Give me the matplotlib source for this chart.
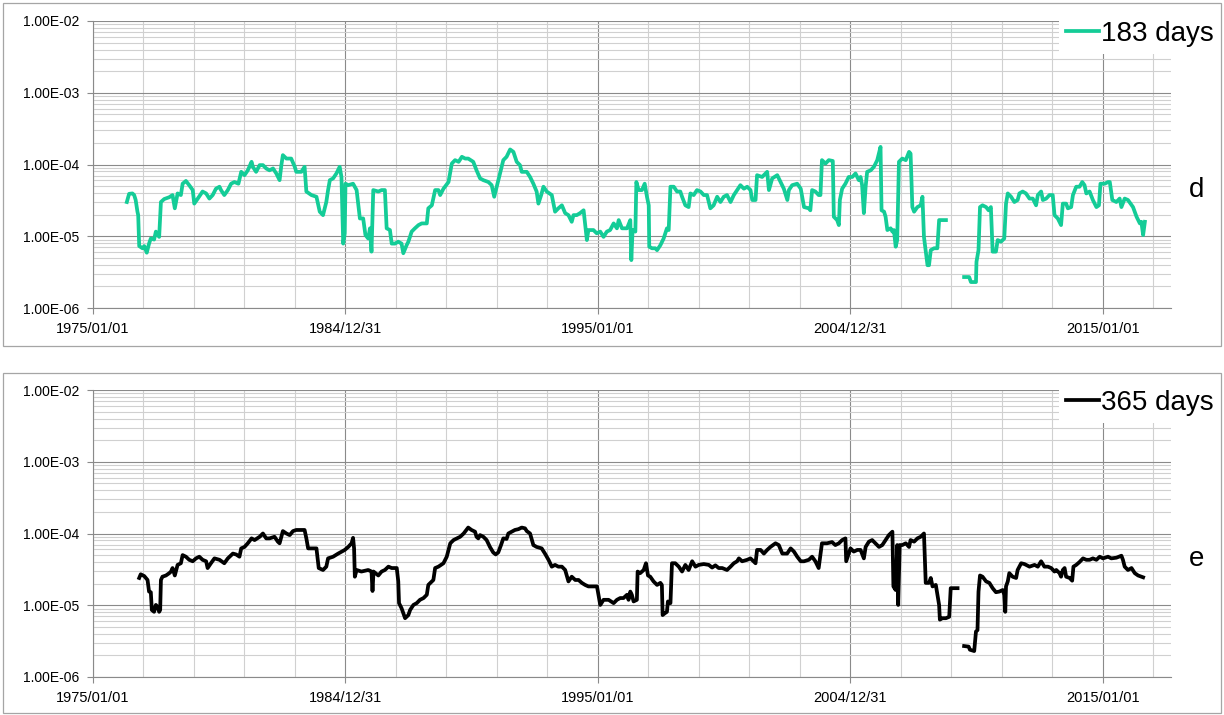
import matplotlib
matplotlib.use("Agg")
import matplotlib.pyplot as plt
import matplotlib.dates as mdates
from matplotlib.patches import Rectangle
from matplotlib.ticker import FixedLocator, LogLocator, FuncFormatter, NullFormatter, FixedFormatter
import numpy as np
import pandas as pd

# 183-day series (decimal year, value)
yr_183 = [1976.34, 1976.43, 1976.56, 1976.63, 1976.69, 1976.76, 1976.79, 1976.83, 1976.96, 1977.03,
          1977.13, 1977.22, 1977.29, 1977.42, 1977.49, 1977.62, 1977.69, 1977.82, 1978.02, 1978.15,
          1978.24, 1978.35, 1978.48, 1978.55, 1978.68, 1978.81, 1978.95, 1979.01, 1979.15, 1979.34,
          1979.48, 1979.61, 1979.74, 1979.87, 1980.01, 1980.07, 1980.20, 1980.34, 1980.47, 1980.60,
          1980.76, 1980.87, 1981.00, 1981.13, 1981.28, 1981.33, 1981.46, 1981.60, 1981.73, 1981.86,
          1981.99, 1982.13, 1982.26, 1982.39, 1982.46, 1982.52, 1982.66, 1982.85, 1982.99, 1983.05,
          1983.25, 1983.38, 1983.45, 1983.65, 1983.85, 1983.98, 1984.11, 1984.24, 1984.31, 1984.38,
          1984.51, 1984.64, 1984.77, 1984.84, 1984.91, 1984.97, 1985.00, 1985.11, 1985.30, 1985.44,
          1985.57, 1985.70, 1985.79, 1985.90, 1985.97, 1986.03, 1986.10, 1986.30, 1986.43, 1986.56,
          1986.63, 1986.76, 1986.83, 1986.96, 1987.09, 1987.22, 1987.29, 1987.42, 1987.49, 1987.62,
          1987.75, 1987.89, 1988.02, 1988.22, 1988.28, 1988.42, 1988.55, 1988.68, 1988.75, 1988.88,
          1989.08, 1989.21, 1989.34, 1989.48, 1989.61, 1989.74, 1989.86, 1990.06, 1990.19, 1990.33,
          1990.46, 1990.66, 1990.79, 1990.89, 1990.99, 1991.12, 1991.25, 1991.38, 1991.52, 1991.65,
          1991.78, 1991.91, 1991.98, 1992.18, 1992.31, 1992.44, 1992.57, 1992.64, 1992.75, 1992.84,
          1992.97, 1993.17, 1993.30, 1993.43, 1993.57, 1993.70, 1993.83, 1993.96, 1994.03, 1994.16,
          1994.29, 1994.43, 1994.56, 1994.62, 1994.82, 1994.95, 1995.09, 1995.22, 1995.35, 1995.48,
          1995.62, 1995.75, 1995.82, 1995.95, 1996.15, 1996.28, 1996.32, 1996.37, 1996.48, 1996.52,
          1996.61, 1996.74, 1996.85, 1996.94, 1997.01, 1997.03, 1997.14, 1997.27, 1997.34, 1997.47,
          1997.60, 1997.73, 1997.80, 1997.87, 1998.00, 1998.13, 1998.26, 1998.33, 1998.46, 1998.59,
          1998.66, 1998.79, 1998.92, 1999.06, 1999.19, 1999.32, 1999.45, 1999.58, 1999.72, 1999.85,
          1999.98, 2000.11, 2000.25, 2000.38, 2000.51, 2000.64, 2000.78, 2000.91, 2001.04, 2001.11,
          2001.24, 2001.30, 2001.50, 2001.70, 2001.77, 2001.90, 2002.10, 2002.23, 2002.36, 2002.50,
          2002.56, 2002.69, 2002.89, 2003.03, 2003.16, 2003.35, 2003.41, 2003.48, 2003.61, 2003.74,
          2003.81, 2003.87, 2004.01, 2004.14, 2004.30, 2004.34, 2004.47, 2004.54, 2004.58, 2004.67,
          2004.80, 2004.93, 2005.07, 2005.20, 2005.33, 2005.40, 2005.46, 2005.53, 2005.60, 2005.66,
          2005.80, 2005.93, 2006.06, 2006.19, 2006.23, 2006.33, 2006.39, 2006.46, 2006.59, 2006.66,
          2006.72, 2006.79, 2006.85, 2006.92, 2007.05, 2007.19, 2007.32, 2007.38, 2007.45, 2007.52,
          2007.65, 2007.78, 2007.85, 2007.91, 2008.05, 2008.11, 2008.18, 2008.31, 2008.44, 2008.51,
          2008.64, 2008.78, 2009.10, 2009.50, 2009.70, 2009.77, 2009.97, 2009.99, 2010.07, 2010.13,
          2010.23, 2010.37, 2010.47, 2010.56, 2010.63, 2010.76, 2010.83, 2010.96, 2011.09, 2011.16,
          2011.23, 2011.36, 2011.49, 2011.62, 2011.69, 2011.82, 2011.95, 2012.09, 2012.22, 2012.35,
          2012.42, 2012.55, 2012.62, 2012.75, 2012.88, 2013.01, 2013.08, 2013.21, 2013.34, 2013.41,
          2013.54, 2013.61, 2013.74, 2013.81, 2013.94, 2014.07, 2014.18, 2014.27, 2014.34, 2014.47,
          2014.60, 2014.74, 2014.84, 2014.90, 2015.07, 2015.20, 2015.27, 2015.37, 2015.53, 2015.66,
          2015.73, 2015.86, 2015.99, 2016.19, 2016.33, 2016.46, 2016.52, 2016.59, 2016.66]
val_183 = [3.0e-5, 3.9e-5, 3.95e-5, 3.75e-5, 3.2e-5, 2.2e-5, 1.97e-5, 7.3e-6, 6.8e-6, 7.3e-6,
           5.9e-6, 7.9e-6, 9.3e-6, 9.0e-6, 1.16e-5, 9.8e-6, 3.0e-5, 3.3e-5, 3.5e-5, 3.75e-5,
           2.45e-5, 3.95e-5, 3.75e-5, 5.4e-5, 5.9e-5, 5.15e-5, 4.4e-5, 2.85e-5, 3.35e-5, 4.2e-5,
           3.95e-5, 3.35e-5, 3.75e-5, 4.6e-5, 4.9e-5, 4.4e-5, 3.75e-5, 4.4e-5, 5.4e-5, 5.7e-5,
           5.4e-5, 7.9e-5, 7.1e-5, 8.3e-5, 1.09e-4, 9.3e-5, 7.9e-5, 9.8e-5, 9.8e-5, 8.8e-5,
           8.3e-5, 8.8e-5, 7.5e-5, 6.05e-5, 9.8e-5, 1.35e-4, 1.21e-4, 1.21e-4, 9.3e-5, 7.9e-5,
           7.9e-5, 9.3e-5, 4.2e-5, 3.75e-5, 3.55e-5, 2.2e-5, 1.97e-5, 3.0e-5, 4.4e-5, 6.05e-5,
           6.4e-5, 7.5e-5, 9.3e-5, 6.7e-5, 7.9e-6, 1.1e-5, 5.4e-5, 5.15e-5, 5.4e-5, 4.4e-5,
           1.77e-5, 1.77e-5, 1.04e-5, 9.3e-6, 1.29e-5, 6.1e-6, 4.4e-5, 4.2e-5, 4.4e-5, 4.4e-5,
           1.29e-5, 1.22e-5, 7.9e-6, 7.9e-6, 8.4e-6, 7.9e-6, 5.8e-6, 7.5e-6, 8.4e-6, 1.16e-5,
           1.29e-5, 1.43e-5, 1.51e-5, 1.51e-5, 2.45e-5, 2.7e-5, 4.4e-5, 4.4e-5, 3.75e-5, 4.6e-5,
           5.7e-5, 1.03e-4, 1.15e-4, 1.09e-4, 1.28e-4, 1.21e-4, 1.21e-4, 1.09e-4, 8.3e-5, 6.4e-5,
           6.05e-5, 5.7e-5, 5.15e-5, 3.55e-5, 4.9e-5, 7.5e-5, 1.15e-4, 1.28e-4, 1.62e-4, 1.50e-4,
           1.09e-4, 9.8e-5, 7.9e-5, 7.9e-5, 6.7e-5, 5.4e-5, 4.2e-5, 2.85e-5, 3.75e-5, 4.9e-5,
           4.2e-5, 3.75e-5, 2.2e-5, 2.45e-5, 2.7e-5, 2.1e-5, 1.97e-5, 1.59e-5, 1.97e-5, 1.97e-5,
           2.1e-5, 2.3e-5, 8.85e-6, 1.22e-5, 1.22e-5, 1.1e-5, 1.16e-5, 9.8e-6, 1.16e-5, 1.22e-5,
           1.51e-5, 1.29e-5, 1.68e-5, 1.29e-5, 1.29e-5, 1.68e-5, 4.65e-6, 1.22e-5, 1.16e-5, 5.7e-5,
           4.4e-5, 4.4e-5, 5.4e-5, 3.55e-5, 2.7e-5, 7.15e-6, 6.8e-6, 6.8e-6, 6.4e-6, 7.5e-6,
           9.3e-6, 1.29e-5, 1.22e-5, 4.9e-5, 4.9e-5, 4.2e-5, 4.2e-5, 3.55e-5, 2.7e-5, 2.55e-5,
           3.95e-5, 3.75e-5, 4.4e-5, 4.2e-5, 3.75e-5, 3.75e-5, 2.45e-5, 2.7e-5, 3.55e-5, 3.0e-5,
           3.55e-5, 3.75e-5, 3.0e-5, 3.75e-5, 4.4e-5, 5.15e-5, 4.6e-5, 4.9e-5, 4.4e-5, 3.2e-5,
           3.2e-5, 7.1e-5, 6.7e-5, 7.9e-5, 4.4e-5, 6.4e-5, 7.1e-5, 5.7e-5, 4.6e-5, 3.2e-5,
           4.4e-5, 5.15e-5, 5.4e-5, 4.6e-5, 2.55e-5, 2.45e-5, 2.3e-5, 4.4e-5, 4.2e-5, 3.75e-5,
           3.75e-5, 1.15e-4, 1.03e-4, 1.15e-4, 1.12e-4, 1.87e-5, 1.68e-5, 1.43e-5, 3.2e-5, 4.6e-5,
           5.4e-5, 6.7e-5, 6.7e-5, 7.5e-5, 6.05e-5, 6.7e-5, 5.15e-5, 2.1e-5, 4.9e-5, 7.9e-5,
           8.3e-5, 9.3e-5, 1.15e-4, 1.76e-4, 2.3e-5, 2.2e-5, 1.87e-5, 1.22e-5, 1.29e-5, 1.16e-5,
           1.22e-5, 7.15e-6, 8.85e-6, 1.09e-4, 1.21e-4, 1.15e-4, 1.5e-4, 1.42e-4, 2.55e-5, 2.2e-5,
           2.55e-5, 2.7e-5, 3.55e-5, 9.8e-6, 3.95e-6, 3.95e-6, 6.4e-6, 6.8e-6, 6.8e-6, 1.68e-5,
           1.68e-5, 1.68e-5, np.nan, 2.7e-6, 2.7e-6, 2.3e-6, 2.3e-6, 4.4e-6, 6.4e-6, 2.55e-5,
           2.7e-5, 2.55e-5, 2.3e-5, 2.55e-5, 6.1e-6, 6.1e-6, 8.85e-6, 8.4e-6, 9.3e-6, 2.85e-5,
           3.95e-5, 3.55e-5, 3.0e-5, 3.2e-5, 3.95e-5, 4.2e-5, 3.95e-5, 3.35e-5, 3.35e-5, 2.7e-5,
           3.75e-5, 4.2e-5, 3.2e-5, 3.35e-5, 3.75e-5, 3.75e-5, 1.97e-5, 1.77e-5, 1.43e-5, 2.85e-5,
           2.85e-5, 2.45e-5, 2.55e-5, 3.75e-5, 4.9e-5, 4.9e-5, 5.7e-5, 5.15e-5, 3.95e-5, 4.2e-5,
           3.2e-5, 2.55e-5, 2.7e-5, 5.4e-5, 5.4e-5, 5.7e-5, 5.7e-5, 3.2e-5, 3.0e-5, 3.35e-5,
           2.55e-5, 3.35e-5, 3.2e-5, 2.55e-5, 1.87e-5, 1.51e-5, 1.59e-5, 1.04e-5, 1.59e-5]

# 365-day series (decimal year, value)
yr_365 = [1976.83, 1976.89, 1977.03, 1977.16, 1977.22, 1977.29, 1977.33, 1977.42, 1977.49, 1977.56,
          1977.62, 1977.66, 1977.69, 1977.75, 1977.89, 1978.02, 1978.09, 1978.15, 1978.24, 1978.35,
          1978.48, 1978.55, 1978.68, 1978.81, 1978.95, 1979.08, 1979.21, 1979.34, 1979.48, 1979.54,
          1979.67, 1979.81, 1980.01, 1980.20, 1980.34, 1980.54, 1980.67, 1980.80, 1980.87, 1981.00,
          1981.13, 1981.28, 1981.40, 1981.60, 1981.73, 1981.86, 1981.99, 1982.19, 1982.32, 1982.39,
          1982.52, 1982.66, 1982.79, 1982.92, 1983.05, 1983.38, 1983.45, 1983.52, 1983.71, 1983.85,
          1983.94, 1984.11, 1984.24, 1984.31, 1984.51, 1984.71, 1984.97, 1985.11, 1985.24, 1985.30,
          1985.34, 1985.37, 1985.44, 1985.63, 1985.90, 1986.03, 1986.07, 1986.11, 1986.30, 1986.43,
          1986.56, 1986.70, 1986.83, 1987.03, 1987.09, 1987.12, 1987.22, 1987.36, 1987.49, 1987.56,
          1987.69, 1987.82, 1987.95, 1988.09, 1988.22, 1988.28, 1988.42, 1988.48, 1988.55, 1988.68,
          1988.88, 1989.01, 1989.15, 1989.28, 1989.41, 1989.54, 1989.68, 1989.86, 1989.99, 1990.13,
          1990.19, 1990.26, 1990.33, 1990.46, 1990.59, 1990.72, 1990.85, 1990.95, 1991.05, 1991.16,
          1991.25, 1991.38, 1991.45, 1991.58, 1991.71, 1991.85, 1991.98, 1992.11, 1992.18, 1992.31,
          1992.44, 1992.57, 1992.77, 1992.90, 1993.04, 1993.17, 1993.30, 1993.43, 1993.57, 1993.70,
          1993.83, 1993.96, 1994.10, 1994.23, 1994.36, 1994.49, 1994.62, 1994.76, 1994.96, 1995.02,
          1995.09, 1995.22, 1995.42, 1995.62, 1995.75, 1995.88, 1996.01, 1996.15, 1996.21, 1996.28,
          1996.34, 1996.41, 1996.54, 1996.57, 1996.67, 1996.81, 1996.90, 1996.98, 1997.07, 1997.20,
          1997.34, 1997.47, 1997.53, 1997.56, 1997.64, 1997.73, 1997.77, 1997.87, 1997.93, 1998.06,
          1998.20, 1998.33, 1998.46, 1998.59, 1998.73, 1998.86, 1998.99, 1999.19, 1999.39, 1999.52,
          1999.65, 1999.78, 1999.92, 2000.11, 2000.25, 2000.38, 2000.51, 2000.58, 2000.71, 2000.91,
          2001.04, 2001.24, 2001.30, 2001.44, 2001.57, 2001.70, 2001.83, 2002.03, 2002.16, 2002.30,
          2002.49, 2002.63, 2002.76, 2002.89, 2003.03, 2003.16, 2003.35, 2003.48, 2003.61, 2003.74,
          2003.81, 2003.87, 2004.07, 2004.27, 2004.40, 2004.54, 2004.67, 2004.80, 2004.83, 2005.00,
          2005.13, 2005.27, 2005.40, 2005.53, 2005.60, 2005.73, 2005.86, 2005.99, 2006.13, 2006.26,
          2006.39, 2006.52, 2006.66, 2006.70, 2006.79, 2006.85, 2006.89, 2006.95, 2007.05, 2007.19,
          2007.32, 2007.38, 2007.52, 2007.65, 2007.78, 2007.91, 2007.98, 2008.11, 2008.18, 2008.25,
          2008.38, 2008.51, 2008.54, 2008.64, 2008.78, 2008.91, 2008.97, 2009.11, 2009.24, 2009.37,
          2009.50, 2009.68, 2009.73, 2009.90, 2009.97, 2010.03, 2010.07, 2010.13, 2010.23, 2010.37,
          2010.50, 2010.63, 2010.76, 2010.89, 2011.03, 2011.09, 2011.13, 2011.16, 2011.23, 2011.29,
          2011.42, 2011.56, 2011.62, 2011.76, 2011.89, 2012.09, 2012.29, 2012.42, 2012.55, 2012.68,
          2012.82, 2012.95, 2013.08, 2013.15, 2013.28, 2013.34, 2013.41, 2013.48, 2013.54, 2013.68,
          2013.78, 2013.83, 2013.94, 2014.07, 2014.21, 2014.34, 2014.47, 2014.60, 2014.74, 2014.87,
          2015.00, 2015.20, 2015.33, 2015.53, 2015.73, 2015.79, 2015.86, 2015.99, 2016.13, 2016.26,
          2016.39, 2016.59]
val_365 = [2.4e-5, 2.7e-5, 2.55e-5, 2.25e-5, 1.55e-5, 1.52e-5, 8.6e-6, 8.1e-6, 1.01e-5, 9.5e-6,
           8.1e-6, 8.6e-6, 2.25e-5, 2.5e-5, 2.6e-5, 2.8e-5, 2.95e-5, 3.3e-5, 2.6e-5, 3.65e-5,
           3.85e-5, 5.0e-5, 4.75e-5, 4.3e-5, 4.1e-5, 4.5e-5, 4.75e-5, 4.3e-5, 4.1e-5, 3.3e-5,
           3.85e-5, 4.5e-5, 4.3e-5, 3.85e-5, 4.5e-5, 5.25e-5, 5.1e-5, 4.75e-5, 6.2e-5, 6.5e-5,
           7.3e-5, 8.55e-5, 8.1e-5, 9.0e-5, 1.0e-4, 8.55e-5, 8.55e-5, 9.0e-5, 7.7e-5, 7.3e-5,
           1.08e-4, 1.0e-4, 9.5e-5, 1.08e-4, 1.12e-4, 1.12e-4, 8.55e-5, 6.2e-5, 6.2e-5, 6.2e-5,
           3.3e-5, 3.1e-5, 3.45e-5, 4.5e-5, 4.75e-5, 5.25e-5, 5.9e-5, 6.5e-5, 7.3e-5, 8.7e-5,
           6.2e-5, 2.5e-5, 3.1e-5, 2.95e-5, 3.1e-5, 2.95e-5, 1.58e-5, 2.95e-5, 2.6e-5, 2.95e-5,
           3.1e-5, 3.45e-5, 3.3e-5, 3.3e-5, 2.15e-5, 1.07e-5, 9.1e-6, 6.6e-6, 7.3e-6, 8.6e-6,
           1.01e-5, 1.07e-5, 1.19e-5, 1.26e-5, 1.4e-5, 1.92e-5, 2.15e-5, 2.25e-5, 3.3e-5, 3.45e-5,
           3.85e-5, 4.75e-5, 7.3e-5, 8.1e-5, 8.55e-5, 9.0e-5, 1.0e-4, 1.21e-4, 1.12e-4, 1.06e-4,
           9.0e-5, 8.55e-5, 9.5e-5, 9.0e-5, 8.1e-5, 6.5e-5, 5.45e-5, 5.1e-5, 5.45e-5, 6.9e-5,
           8.55e-5, 8.4e-5, 1.0e-4, 1.06e-4, 1.12e-4, 1.15e-4, 1.21e-4, 1.18e-4, 1.08e-4, 1.0e-4,
           6.9e-5, 6.5e-5, 6.2e-5, 5.25e-5, 4.3e-5, 3.45e-5, 3.65e-5, 3.45e-5, 3.45e-5, 3.1e-5,
           2.15e-5, 2.5e-5, 2.25e-5, 2.25e-5, 2.05e-5, 1.92e-5, 1.83e-5, 1.83e-5, 1.83e-5, 1.4e-5,
           1.01e-5, 1.19e-5, 1.19e-5, 1.07e-5, 1.19e-5, 1.26e-5, 1.26e-5, 1.4e-5, 1.19e-5, 1.55e-5,
           1.4e-5, 1.13e-5, 1.19e-5, 2.95e-5, 2.8e-5, 3.1e-5, 3.85e-5, 2.6e-5, 2.5e-5, 2.15e-5,
           1.92e-5, 2.05e-5, 1.92e-5, 7.3e-6, 7.7e-6, 8.1e-6, 1.13e-5, 1.07e-5, 3.85e-5, 3.85e-5,
           3.45e-5, 2.95e-5, 3.65e-5, 3.1e-5, 4.1e-5, 3.45e-5, 3.65e-5, 3.75e-5, 3.65e-5, 3.35e-5,
           3.6e-5, 3.3e-5, 3.3e-5, 3.1e-5, 3.45e-5, 3.85e-5, 4.1e-5, 4.5e-5, 4.1e-5, 4.3e-5,
           4.5e-5, 3.85e-5, 5.9e-5, 5.9e-5, 5.25e-5, 5.9e-5, 6.5e-5, 7.3e-5, 6.9e-5, 5.25e-5,
           5.25e-5, 6.2e-5, 5.6e-5, 4.75e-5, 4.1e-5, 4.1e-5, 4.3e-5, 4.75e-5, 4.1e-5, 3.3e-5,
           5.0e-5, 7.3e-5, 7.3e-5, 7.6e-5, 6.9e-5, 7.3e-5, 8.1e-5, 8.55e-5, 4.1e-5, 6.2e-5,
           5.6e-5, 5.9e-5, 5.9e-5, 4.5e-5, 6.5e-5, 7.7e-5, 8.1e-5, 7.3e-5, 6.5e-5, 6.9e-5,
           8.1e-5, 9.5e-5, 1.06e-4, 1.83e-5, 1.63e-5, 6.9e-5, 1.01e-5, 6.9e-5, 6.9e-5, 7.3e-5,
           6.5e-5, 8.1e-5, 7.7e-5, 8.55e-5, 9.0e-5, 1.0e-4, 2.05e-5, 2.05e-5, 2.4e-5, 1.83e-5,
           1.92e-5, 1.01e-5, 6.3e-6, 6.6e-6, 6.6e-6, 6.9e-6, 1.73e-5, 1.73e-5, 1.73e-5, np.nan,
           2.7e-6, 2.65e-6, 2.4e-6, 2.3e-6, 4.3e-6, 4.5e-6, 1.55e-5, 2.6e-5, 2.5e-5, 2.15e-5,
           2.05e-5, 1.73e-5, 1.52e-5, 1.55e-5, 1.63e-5, 1.4e-5, 8.1e-6, 1.83e-5, 2.15e-5, 2.8e-5,
           2.5e-5, 2.4e-5, 3.1e-5, 3.85e-5, 3.75e-5, 3.45e-5, 3.65e-5, 3.45e-5, 4.1e-5, 3.45e-5,
           3.45e-5, 3.3e-5, 2.95e-5, 3.1e-5, 2.8e-5, 2.5e-5, 3.1e-5, 3.3e-5, 2.5e-5, 2.4e-5,
           2.2e-5, 3.45e-5, 3.65e-5, 4.0e-5, 4.5e-5, 4.3e-5, 4.3e-5, 4.5e-5, 4.3e-5, 4.75e-5,
           4.5e-5, 4.75e-5, 4.5e-5, 4.6e-5, 4.9e-5, 4.3e-5, 3.45e-5, 3.1e-5, 3.3e-5, 2.8e-5,
           2.6e-5, 2.45e-5]

tick_dates = ['1975-01-01', '1984-12-31', '1995-01-01', '2004-12-31', '2015-01-01']
tick_labels = ['1975/01/01', '1984/12/31', '1995/01/01', '2004/12/31', '2015/01/01']

base = pd.Timestamp('1975-01-01')


def to_dates(years):
    return [base + pd.Timedelta(days=(y - 1975) * 365.25) for y in years]


W, H = 1224, 715
fig = plt.figure(figsize=(W / 100, H / 100), dpi=100)
plt.rcParams['font.family'] = ['Liberation Sans', 'DejaVu Sans']

x0 = mdates.date2num(base)
x_max = x0 + 15594
major_pos = mdates.datestr2num(tick_dates)
# two-year minor grid, skipping the spots that sit on a major line
minor_pos = [x0 + k * 730.4 for k in range(22)
             if np.min(np.abs(major_pos - (x0 + k * 730.4))) > 5]


def fx(px):
    return px / W


def fy(py):
    return 1 - py / H


def panel(top_px, bottom_px, years, values, color, label, letter, frame):
    # outer frame of the chart area
    fig.add_artist(Rectangle((fx(3), fy(frame[1])), fx(1218), (frame[1] - frame[0]) / H,
                             transform=fig.transFigure, fill=False,
                             edgecolor='#a5a5a5', lw=0.9))
    ax = fig.add_axes([fx(93), fy(bottom_px), fx(1171 - 93), (bottom_px - top_px) / H])
    ax.set_yscale('log')
    ax.set_ylim(1e-6, 1e-2)
    ax.set_xlim(x0, x_max)
    ax.plot(to_dates(years), values, color=color, lw=2.7, label=label,
            solid_joinstyle='round', zorder=3)

    ax.xaxis.set_major_locator(FixedLocator(major_pos))
    ax.xaxis.set_major_formatter(FixedFormatter(tick_labels))
    ax.xaxis.set_minor_locator(FixedLocator(minor_pos))
    ax.yaxis.set_major_locator(LogLocator(base=10, numticks=10))
    ax.yaxis.set_minor_locator(LogLocator(base=10, subs=np.arange(2, 10), numticks=20))
    ax.yaxis.set_major_formatter(FuncFormatter(lambda v, p: f"{v:.2E}"))
    ax.yaxis.set_minor_formatter(NullFormatter())

    ax.set_axisbelow(True)
    ax.grid(which='major', color='#8a8a8a', lw=0.8)
    ax.grid(which='minor', color='#d0d0d0', lw=0.8)
    for s in ('top', 'right'):
        ax.spines[s].set_visible(False)
    for s in ('left', 'bottom'):
        ax.spines[s].set_color('#8a8a8a')
        ax.spines[s].set_linewidth(0.8)
    ax.tick_params(which='major', length=4, width=0.8, color='#8a8a8a', direction='out')
    ax.tick_params(which='minor', length=0)
    ax.tick_params(axis='y', labelsize=10, pad=6)
    ax.tick_params(axis='x', labelsize=10.5, pad=6)

    leg = ax.legend(loc='upper right', bbox_to_anchor=(fx(1221), fy(top_px - 7)),
                    bbox_transform=fig.transFigure, frameon=True, fancybox=False,
                    framealpha=1, edgecolor='none', facecolor='white',
                    fontsize=20, handlelength=1.18, handletextpad=0.08,
                    borderpad=0.25, borderaxespad=0)
    leg.set_zorder(5)

    fig.text(fx(1197), fy(top_px + 169), letter, fontsize=20, ha='center', va='center')
    return ax


panel(21, 308, yr_183, val_183, '#14cc97', '183 days', 'd', (3, 346))
panel(390, 677, yr_365, val_365, '#000000', '365 days', 'e', (373, 713))

fig.savefig('out.png', dpi=100)
